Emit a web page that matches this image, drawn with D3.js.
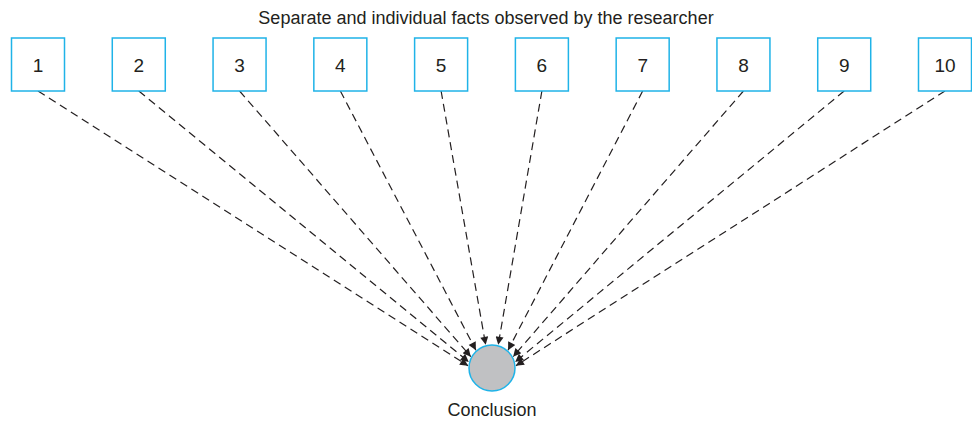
<!DOCTYPE html>
<html>
<head>
<meta charset="utf-8">
<script src="https://cdn.jsdelivr.net/npm/d3@7"></script>
<style>
  body { margin: 0; background: #fff; }
  text { font-family: "Liberation Sans", Arial, sans-serif; fill: #231f20; }
</style>
</head>
<body>
<svg id="chart" width="972" height="423"></svg>
<script>
// Facts shown in the boxes
const facts = ["1", "2", "3", "4", "5", "6", "7", "8", "9", "10"];
const title = "Separate and individual facts observed by the researcher";
const conclusion = "Conclusion";

const svg = d3.select("#chart");
const blue = "#1fb3e8";

// x position of each fact box centre
const x = d3.scalePoint().domain(facts).range([38, 945]);

const boxSize = 53;
const boxTop = 38;
const cx = 492, cy = 368, r = 23;
// lines aim a little below the centre so the heads fan out round the circle
const aimY = 381;

// where the line from the box meets the circle
function hit(d) {
  const x0 = x(d), y0 = boxTop + boxSize;
  let dx = cx - x0, dy = aimY - y0;
  const len = Math.sqrt(dx * dx + dy * dy);
  dx /= len; dy /= len;
  const fx = x0 - cx, fy = y0 - cy;
  const b = fx * dx + fy * dy;
  const c = fx * fx + fy * fy - (r + 1) * (r + 1);
  const t = -b - Math.sqrt(b * b - c);
  return [x0 + dx * t, y0 + dy * t];
}

// arrow marker
svg.append("defs")
  .append("marker")
  .attr("id", "arrow")
  .attr("viewBox", "0 0 10 10")
  .attr("refX", 10)
  .attr("refY", 5)
  .attr("markerWidth", 12)
  .attr("markerHeight", 8)
  .attr("markerUnits", "userSpaceOnUse")
  .attr("orient", "auto")
  .append("path")
  .attr("d", "M0,0 L10,5 L0,10 z")
  .attr("fill", "#231f20");

// title
svg.append("text")
  .attr("x", 486)
  .attr("y", 24)
  .attr("text-anchor", "middle")
  .attr("font-size", 18)
  .text(title);

// dashed lines from boxes to the conclusion
svg.selectAll("line.link")
  .data(facts)
  .enter()
  .append("line")
  .attr("class", "link")
  .attr("x1", (d) => x(d))
  .attr("y1", boxTop + boxSize)
  .attr("x2", (d) => hit(d)[0])
  .attr("y2", (d) => hit(d)[1])
  .attr("stroke", "#231f20")
  .attr("stroke-width", 1.2)
  .attr("stroke-dasharray", "8,5")
  .attr("marker-end", "url(#arrow)");

// fact boxes
const boxes = svg.selectAll("g.fact")
  .data(facts)
  .enter()
  .append("g")
  .attr("class", "fact");

boxes.append("rect")
  .attr("x", (d) => x(d) - boxSize / 2)
  .attr("y", boxTop)
  .attr("width", boxSize)
  .attr("height", boxSize)
  .attr("fill", "#fff")
  .attr("stroke", blue)
  .attr("stroke-width", 1.5);

boxes.append("text")
  .attr("x", (d) => x(d))
  .attr("y", boxTop + boxSize / 2 + 7)
  .attr("text-anchor", "middle")
  .attr("font-size", 19)
  .text((d) => d);

// conclusion circle
svg.append("circle")
  .attr("cx", cx)
  .attr("cy", cy)
  .attr("r", r)
  .attr("fill", "#c0c1c3")
  .attr("stroke", blue)
  .attr("stroke-width", 1.5);

svg.append("text")
  .attr("x", cx)
  .attr("y", 416)
  .attr("text-anchor", "middle")
  .attr("font-size", 18)
  .text(conclusion);
</script>
</body>
</html>
